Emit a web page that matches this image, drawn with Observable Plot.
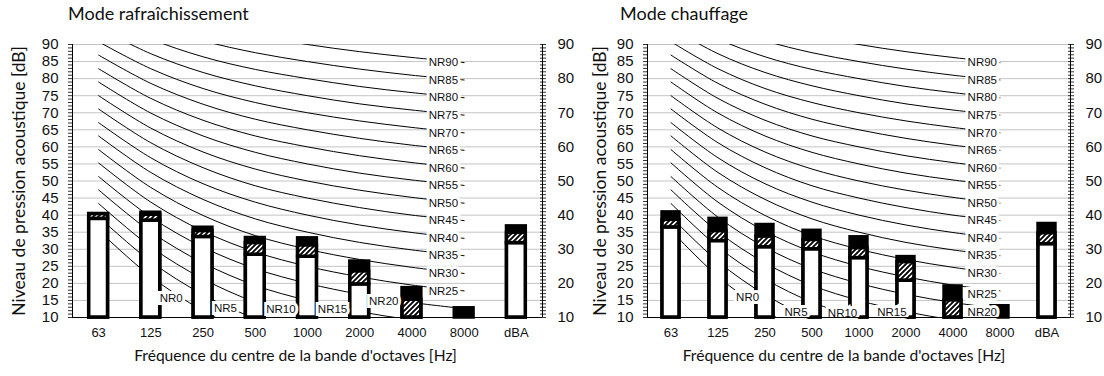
<!DOCTYPE html>
<html>
<head>
<meta charset="utf-8">
<script src="https://cdn.jsdelivr.net/npm/d3@7"></script>
<script src="https://cdn.jsdelivr.net/npm/@observablehq/plot@0.6"></script>
<style>
  html, body { margin: 0; padding: 0; background: #fff; }
  #root { position: relative; width: 1104px; height: 376px; overflow: hidden; background: #fff; }
  .title { position: absolute; top: 2px; font-family: Lato, "Open Sans", sans-serif; font-size: 18px; color: #111; white-space: nowrap; }
  .panel { position: absolute; top: 30px; }
  .panel svg { background: transparent !important; overflow: visible; }
</style>
</head>
<body>
<div id="root"></div>
<script>
// ---------- DATA ----------
const categories = ["63", "125", "250", "500", "1000", "2000", "4000", "8000", "dBA"];
const nrBands = ["63", "125", "250", "500", "1000", "2000", "4000", "8000"];
const nrLevels = [0, 5, 10, 15, 20, 25, 30, 35, 40, 45, 50, 55, 60, 65, 70, 75, 80, 85, 90];
// NR curve levels (dB) per octave band 63 … 8000 Hz
const nrTable = [
  [35.5, 22.0, 12.0, 4.8, 0, -3.5, -6.1, -8.0],
  [39.5, 26.4, 16.7, 9.7, 5, 1.6, -1.0, -2.9],
  [43.4, 30.7, 21.3, 14.5, 10, 6.7, 4.2, 2.3],
  [47.4, 35.1, 26.0, 19.4, 15, 11.7, 9.3, 7.5],
  [51.3, 39.4, 30.6, 24.3, 20, 16.8, 14.4, 12.6],
  [55.3, 43.8, 35.3, 29.2, 25, 21.9, 19.5, 17.8],
  [59.2, 48.1, 39.9, 34.0, 30, 27.0, 24.7, 22.9],
  [63.2, 52.5, 44.6, 38.9, 35, 32.0, 29.8, 28.1],
  [67.1, 56.8, 49.2, 43.8, 40, 37.1, 34.9, 33.2],
  [71.1, 61.2, 53.9, 48.6, 45, 42.2, 40.0, 38.4],
  [75.0, 65.5, 58.5, 53.5, 50, 47.3, 45.2, 43.5],
  [79.0, 69.9, 63.2, 58.4, 55, 52.3, 50.3, 48.7],
  [82.9, 74.2, 67.8, 63.2, 60, 57.4, 55.4, 53.8],
  [86.9, 78.6, 72.5, 68.1, 65, 62.5, 60.5, 59.0],
  [90.8, 82.9, 77.1, 73.0, 70, 67.6, 65.7, 64.1],
  [94.8, 87.3, 81.8, 77.9, 75, 72.6, 70.8, 69.3],
  [98.7, 91.6, 86.4, 82.7, 80, 77.7, 75.9, 74.4],
  [102.7, 96.0, 91.1, 87.6, 85, 82.8, 81.0, 79.6],
  [106.6, 100.3, 95.7, 92.5, 90, 87.9, 86.2, 84.7]
];

// Cooling mode ("Mode rafraîchissement"): white part top, hatched part top, total
const coolWhite = [38.9, 38.4, 33.6, 28.4, 27.8, 19.7, 10, 10, 31.8];
const coolHatch = [40.3, 40.1, 35.3, 31.8, 31.1, 23.5, 15.2, 10, 34.8];
const coolTotal = [40.3, 40.7, 36.3, 33.3, 33.2, 26.4, 18.6, 12.7, 36.7];

// Heating mode ("Mode chauffage")
const heatWhite = [36.4, 32.4, 30.6, 30.0, 27.4, 20.8, 10, 10, 31.5];
const heatHatch = [38.6, 35.3, 33.7, 32.7, 30.3, 26.2, 15.0, 10, 34.7];
const heatTotal = [40.8, 38.9, 37.1, 35.4, 33.5, 27.7, 19.1, 13.3, 37.4];

// NR curve labels placed inside the chart (category position, level)
const coolLowLabels = [
  {nr: 0, at: 1.39, level: 15.5},
  {nr: 5, at: 2.43, level: 12.8},
  {nr: 10, at: 3.49, level: 12.3},
  {nr: 15, at: 4.48, level: 12.5},
  {nr: 20, at: 5.46, level: 14.8}
];
const heatLowLabels = [
  {nr: 0, at: 1.63, level: 16.0},
  {nr: 5, at: 2.66, level: 11.6},
  {nr: 10, at: 3.65, level: 11.3},
  {nr: 15, at: 4.70, level: 11.6}
];
const heatEndLabelLevels = {20: 11.6, 25: 16.7}; // labels moved off their curve end

const yDomain = [10, 90];
const yMajorTicks = d3.range(10, 91, 5);
const yRightTicks = d3.range(10, 91, 10);
const yMinorTicks = d3.range(10, 91, 1);
const gridTicks = d3.range(15, 91, 5);

const titles = ["Mode rafraîchissement", "Mode chauffage"];
const yTitle = "Niveau de pression acoustique [dB]";
const xTitle = "Fréquence du centre de la bande d'octaves [Hz]";

// ---------- DRAWING ----------
const root = document.getElementById("root");
const xDomain = [-0.5, categories.length - 0.5];
const baseLevel = yDomain[0];

const curveRows = nrLevels.flatMap((nr, k) =>
  nrTable[k].map((v, j) => ({nr, i: j, v})));

function panel(cfg) {
  const {id, white, hatch, total, lowLabels, endOverrides, endFromIdx,
         left, width, marginLeft, marginRight, labelDx, yTitleDx, xTitleDx, barHalf} = cfg;

  const bars = categories.map((c, i) => ({i, w: white[i], h: hatch[i], t: total[i]}));
  const endIdx = nrBands.length - 1;
  const endLabels = nrLevels
    .map((nr, k) => ({nr, at: endIdx, level: endOverrides[nr] ?? nrTable[k][endIdx]}))
    .filter(d => d.nr >= endFromIdx);
  const txt = {fontFamily: "Liberation Sans, Arial, sans-serif", fontSize: 11.5, fill: "#111",
               stroke: "white", strokeWidth: 6, strokeLinejoin: "miter"};

  const plot = Plot.plot({
    width, height: 346,
    marginTop: 14, marginBottom: 59, marginLeft, marginRight,
    x: {type: "linear", domain: xDomain},
    y: {domain: yDomain},
    style: {fontFamily: "Liberation Sans, Arial, sans-serif", fontSize: "14px", background: "transparent", overflow: "visible", color: "#111"},
    marks: [
      Plot.gridY(gridTicks, {stroke: "#c4c4c4", strokeOpacity: 1, strokeWidth: 1}),
      Plot.line(curveRows, {x: "i", y: "v", z: "nr", curve: "catmull-rom", stroke: "black", strokeWidth: 1, clip: true}),
      // total (black) part
      Plot.rect(bars, {x1: d => d.i - barHalf, x2: d => d.i + barHalf, y1: () => baseLevel, y2: "t",
        fill: "black", stroke: "black", strokeWidth: 3.5}),
      // white part
      Plot.rect(bars.filter(d => d.w > baseLevel), {x1: d => d.i - barHalf, x2: d => d.i + barHalf, y1: () => baseLevel, y2: "w",
        fill: "white", stroke: "black", strokeWidth: 3.5}),
      // hatched part
      Plot.rect(bars.filter(d => d.h > d.w), {x1: d => d.i - barHalf, x2: d => d.i + barHalf, y1: "w", y2: "h",
        fill: `url(#${id}-hatch)`, stroke: "black", strokeWidth: 3.5}),
      // NR labels
      Plot.text(lowLabels, {x: "at", y: "level", text: d => "NR" + d.nr, textAnchor: "middle", ...txt}),
      Plot.text(endLabels, {x: "at", y: "level", text: d => "NR" + d.nr, textAnchor: "end", dx: labelDx, ...txt}),
      // axes
      Plot.axisY({ticks: yMinorTicks, tickSize: 4, tickFormat: () => "", label: null, stroke: "#333"}),
      Plot.axisY({ticks: yMajorTicks, tickSize: 0, tickPadding: 14, fontSize: 15, label: null}),
      Plot.axisY({anchor: "right", ticks: yMinorTicks, tickSize: 6, dx: -3, tickFormat: () => "", label: null, stroke: "#333"}),
      Plot.axisY({anchor: "right", ticks: yRightTicks, tickSize: 0, tickPadding: 15, fontSize: 15, label: null}),
      Plot.axisX({ticks: d3.range(categories.length), tickFormat: i => categories[i], tickSize: 0, tickPadding: 10,
        fontSize: 13, fontFamily: "Liberation Sans Narrow, Arial Narrow, sans-serif", label: null}),
      Plot.ruleX([xDomain[0], xDomain[1]], {stroke: "black", strokeWidth: 1}),
      Plot.ruleY([yDomain[0]], {stroke: "black", strokeWidth: 1}),
      Plot.text([yTitle], {frameAnchor: "left", dx: yTitleDx, rotate: -90, textAnchor: "middle", fontSize: 17.5, fontFamily: "Lato, sans-serif", fill: "#111"}),
      Plot.text([xTitle], {frameAnchor: "bottom", dy: 43, dx: xTitleDx, textAnchor: "middle", fontSize: 15.6, fontFamily: "Lato, sans-serif", fill: "#111"})
    ]
  });

  // hatch pattern
  const ns = "http://www.w3.org/2000/svg";
  const defs = document.createElementNS(ns, "defs");
  defs.innerHTML = `<pattern id="${id}-hatch" patternUnits="userSpaceOnUse" width="5" height="5">
      <rect width="5" height="5" fill="white"/>
      <path d="M-1,1 L1,-1 M0,5 L5,0 M4,6 L6,4" stroke="black" stroke-width="1.9"/>
    </pattern>`;
  plot.insertBefore(defs, plot.firstChild);
  plot.style.background = "transparent";

  const div = document.createElement("div");
  div.className = "panel";
  div.style.left = left + "px";
  div.appendChild(plot);
  root.appendChild(div);
}

panel({id: "cool", white: coolWhite, hatch: coolHatch, total: coolTotal,
  lowLabels: coolLowLabels, endOverrides: {}, endFromIdx: 25,
  left: 0, width: 600, marginLeft: 72, marginRight: 58, labelDx: -6,
  yTitleDx: -53.5, xTitleDx: -12, barHalf: 0.18});
panel({id: "heat", white: heatWhite, hatch: heatHatch, total: heatTotal,
  lowLabels: heatLowLabels, endOverrides: heatEndLabelLevels, endFromIdx: 20,
  left: 560, width: 544, marginLeft: 87, marginRight: 34, labelDx: -3,
  yTitleDx: -47, xTitleDx: -15, barHalf: 0.18});

titles.forEach((t, k) => {
  const d = document.createElement("div");
  d.className = "title";
  d.style.left = (k === 0 ? 68 : 620) + "px";
  d.textContent = t;
  root.appendChild(d);
});
</script>
</body>
</html>
